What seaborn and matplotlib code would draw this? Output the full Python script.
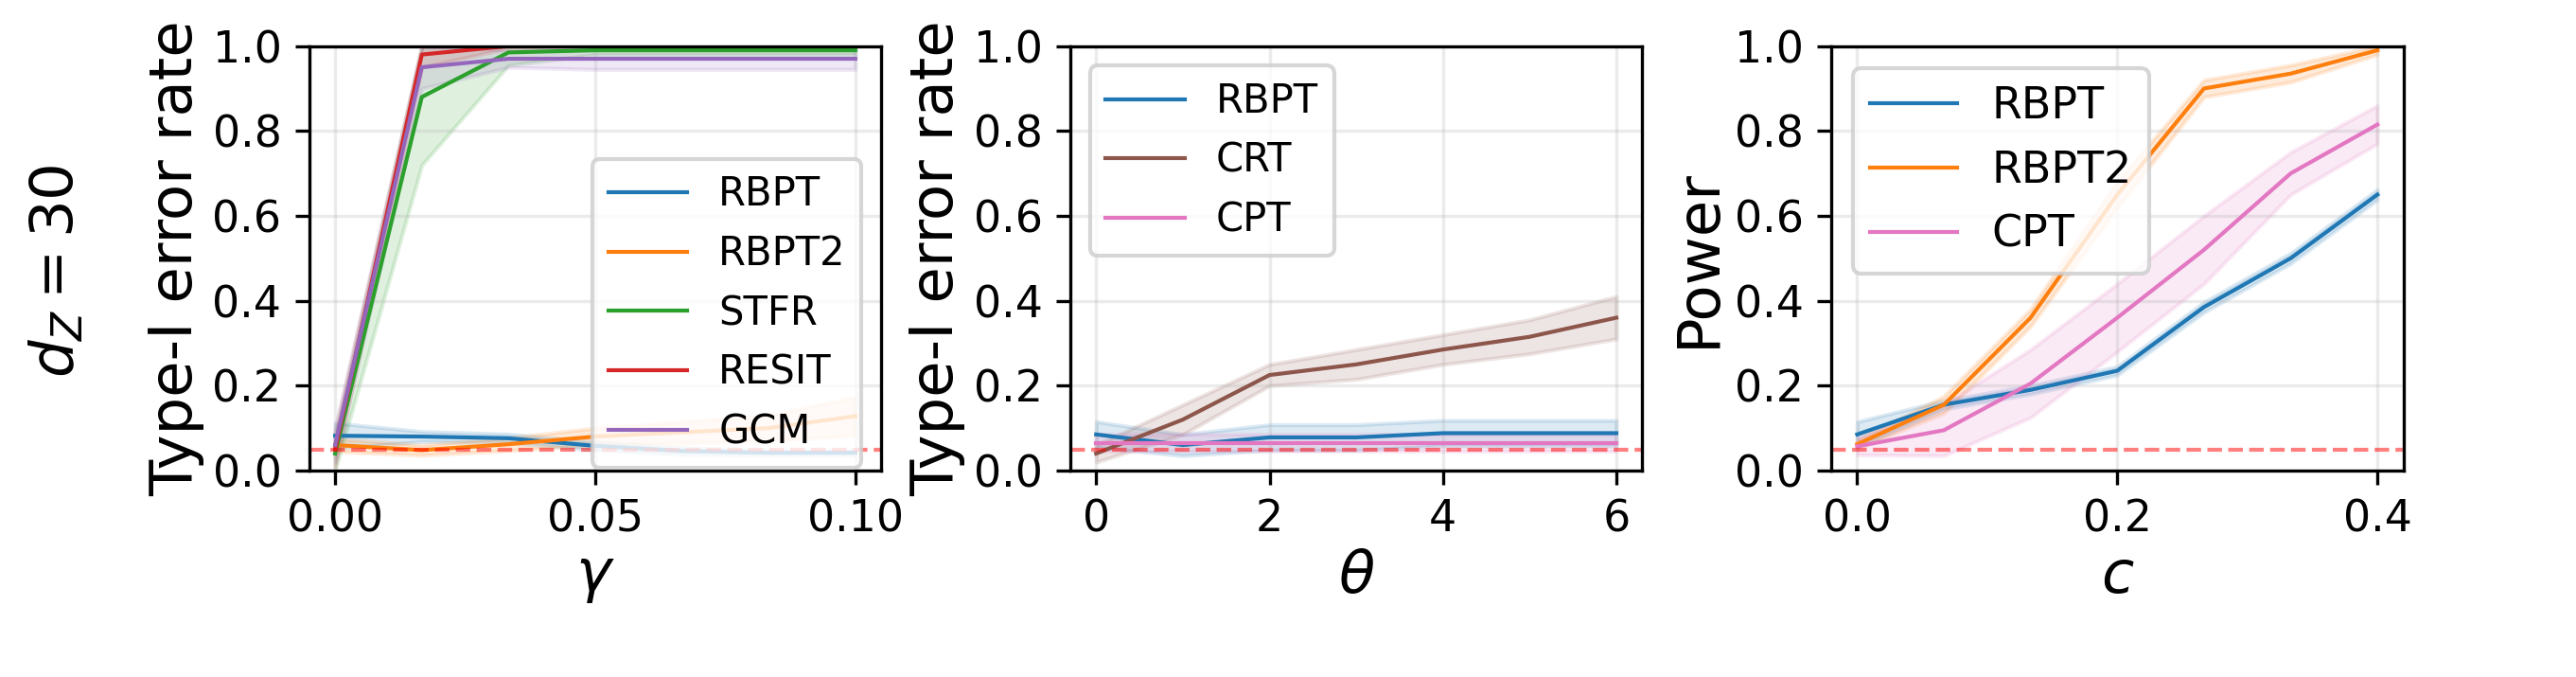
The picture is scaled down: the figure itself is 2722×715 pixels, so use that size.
import matplotlib
matplotlib.use("Agg")
import matplotlib.pyplot as plt
import numpy as np
import pandas as pd
import seaborn as sns

gamma = [0.0, 1/60, 2/60, 3/60, 4/60, 5/60, 0.1]
p1 = {
    "RBPT": [0.082, 0.080, 0.076, 0.058, 0.046, 0.042, 0.042],
    "RBPT2": [0.060, 0.048, 0.062, 0.080, 0.090, 0.100, 0.128],
    "STFR": [0.040, 0.880, 0.985, 0.990, 0.990, 0.990, 0.990],
    "RESIT": [0.050, 0.980, 1.000, 1.000, 1.000, 1.000, 1.000],
    "GCM": [0.060, 0.950, 0.970, 0.970, 0.970, 0.970, 0.970],
}
p1_err = {
    "RBPT": [0.03, 0.012, 0.01, 0.01, 0.008, 0.006, 0.006],
    "RBPT2": [0.015, 0.012, 0.015, 0.02, 0.025, 0.03, 0.045],
    "STFR": [0.04, 0.16, 0.03, 0.01, 0.01, 0.01, 0.01],
    "RESIT": [0.04, 0.03, 0.005, 0.003, 0.003, 0.003, 0.003],
    "GCM": [0.04, 0.05, 0.02, 0.025, 0.025, 0.025, 0.025],
}
theta = [0, 1, 2, 3, 4, 5, 6]
p2 = {
    "RBPT": [0.085, 0.060, 0.078, 0.078, 0.088, 0.088, 0.088],
    "CRT": [0.040, 0.120, 0.225, 0.250, 0.285, 0.315, 0.360],
    "CPT": [0.065, 0.065, 0.065, 0.065, 0.065, 0.065, 0.065],
}
p2_err = {
    "RBPT": [0.03, 0.025, 0.03, 0.03, 0.03, 0.03, 0.03],
    "CRT": [0.02, 0.035, 0.025, 0.035, 0.035, 0.04, 0.05],
    "CPT": [0.02, 0.02, 0.02, 0.02, 0.02, 0.02, 0.02],
}
cval = [0.0, 0.4/6, 0.8/6, 0.2, 1.6/6, 2.0/6, 0.4]
p3 = {
    "RBPT": [0.085, 0.155, 0.190, 0.235, 0.385, 0.500, 0.650],
    "RBPT2": [0.062, 0.155, 0.360, 0.650, 0.900, 0.935, 0.990],
    "CPT": [0.057, 0.095, 0.205, 0.360, 0.520, 0.700, 0.815],
}
p3_err = {
    "RBPT": [0.03, 0.01, 0.01, 0.01, 0.012, 0.012, 0.012],
    "RBPT2": [0.01, 0.02, 0.02, 0.03, 0.02, 0.02, 0.01],
    "CPT": [0.02, 0.06, 0.08, 0.08, 0.08, 0.05, 0.045],
}

colors = {"RBPT": "#1f77b4", "RBPT2": "#ff7f0e", "STFR": "#2ca02c",
          "RESIT": "#d62728", "GCM": "#9467bd", "CRT": "#8c564b", "CPT": "#e377c2"}

plt.rcParams["font.family"] = ["DejaVu Sans"]
fig, axes = plt.subplots(1, 3, figsize=(2722/300, 715/300), dpi=300)
fig.subplots_adjust(left=0.12, right=0.933, top=0.932, bottom=0.305, wspace=0.33)

panels = [(gamma, p1, p1_err, r"$\gamma$", "Type-I error rate", "center right", [0, 0.05, 0.1], "{:.2f}"),
          (theta, p2, p2_err, r"$\theta$", "Type-I error rate", "upper left", [0, 2, 4, 6], "{:d}"),
          (cval, p3, p3_err, r"$c$", "Power", "upper left", [0, 0.2, 0.4], "{:.1f}")]

for ax, (x, vals, errs, xl, yl, loc, xt, fmt) in zip(axes, panels):
    for name, y in vals.items():
        df = pd.DataFrame({"x": x, "y": y})
        sns.lineplot(data=df, x="x", y="y", ax=ax, color=colors[name], lw=1, label=name)
        y = np.array(y); e = np.array(errs[name])
        ax.fill_between(x, y - e, np.minimum(y + e, 1.0), color=colors[name], alpha=0.15)
    ax.axhline(0.05, color="red", ls="--", lw=1, alpha=0.5)
    ax.set_ylim(0, 1)
    ax.set_yticks([0, 0.2, 0.4, 0.6, 0.8, 1.0])
    ax.set_xticks(xt)
    ax.set_xticklabels([fmt.format(v) for v in xt])
    ax.tick_params(labelsize=11)
    ax.grid(True, alpha=0.25)
    ax.set_xlabel(xl, fontsize=15, labelpad=2)
    ax.set_ylabel(yl, fontsize=15, labelpad=2)
    if loc == "center right":
        ax.legend(loc="center right", bbox_to_anchor=(1.0, 0.37), fontsize=10)
    else:
        ax.legend(loc=loc, fontsize=10 if ax is axes[1] else 11)

fig.text(0.022, 0.6, r"$d_Z = 30$", rotation=90, fontsize=15, ha="center", va="center")
fig.savefig("out.png", dpi=300)
